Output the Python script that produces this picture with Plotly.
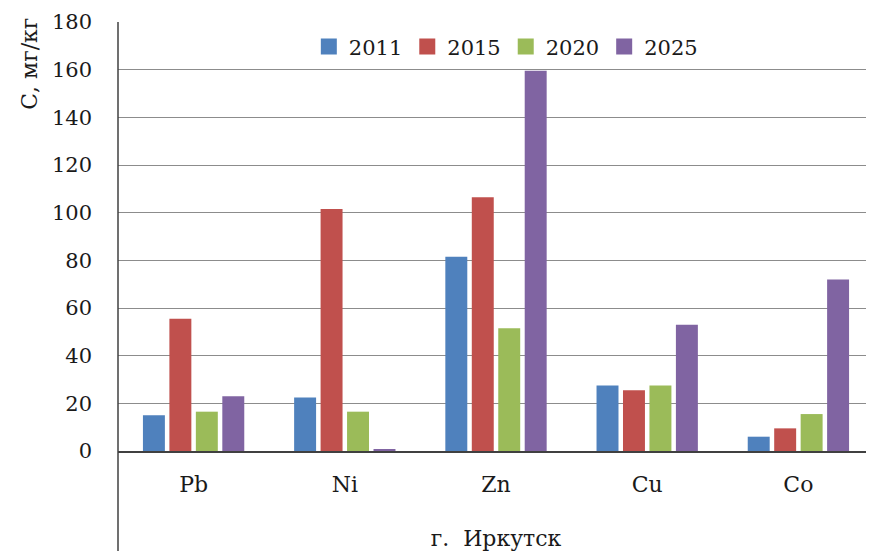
import plotly.graph_objects as go

categories = ["Pb", "Ni", "Zn", "Cu", "Co"]
years = ["2011", "2015", "2020", "2025"]
v2011 = [15, 22.5, 81.5, 27.5, 6]
v2015 = [55.5, 101.5, 106.5, 25.5, 9.5]
v2020 = [16.5, 16.5, 51.5, 27.5, 15.5]
v2025 = [23, 0.7, 159.5, 53, 72]
colors = ["#4F81BD", "#C0504D", "#9BBB59", "#8064A2"]
y_ticks = [0, 20, 40, 60, 80, 100, 120, 140, 160, 180]

FONT = "DejaVu Serif"

fig = go.Figure()
for name, vals, col in zip(years, [v2011, v2015, v2020, v2025], colors):
    fig.add_trace(go.Bar(x=categories, y=vals, name=name, showlegend=False,
                         marker=dict(color=col, line=dict(width=0))))
# legend entries with larger square swatches
for name, col in zip(years, colors):
    fig.add_trace(go.Scatter(x=[None], y=[None], mode="markers", name=name,
                             marker=dict(symbol="square", size=16, color=col)))

fig.update_layout(
    width=866, height=543,
    margin=dict(l=110, r=0, t=14, b=100),
    paper_bgcolor="white", plot_bgcolor="white",
    barmode="group", bargap=0.30, bargroupgap=0.17,
    font=dict(family=FONT, size=21, color="#1a1a1a"),
    showlegend=True,
    legend=dict(orientation="h", x=0.513, xanchor="center", y=0.99, yanchor="top",
                bgcolor="rgba(255,255,255,0)", font=dict(size=21, family=FONT), itemwidth=30,
                traceorder="normal", tracegroupgap=0),
    xaxis=dict(showgrid=False, showline=True, linecolor="#404040", linewidth=1.5,
               ticks="", tickfont=dict(size=22, family=FONT), ticklabelstandoff=13, automargin=False,
               title=dict(text="г.\u00a0 Иркутск", font=dict(size=22, family=FONT), standoff=36)),
    yaxis=dict(range=[0, 180], tickvals=y_ticks, showgrid=True, gridcolor="#8c8c8c", gridwidth=1,
               showline=False, zeroline=False, ticks="", tickfont=dict(size=21, family=FONT),
               ticklabelstandoff=25, automargin=False),
)

fig.add_shape(type="line", xref="paper", yref="paper", x0=0, x1=0, y0=1, y1=-0.25,
              line=dict(color="#404040", width=1.5))

fig.add_annotation(text="С, мг/кг", textangle=-90, xref="paper", yref="paper",
                   x=-0.118, y=1.0, xanchor="center", yanchor="top", showarrow=False,
                   font=dict(size=22, family=FONT), yshift=6)

fig.write_html("out.html")
